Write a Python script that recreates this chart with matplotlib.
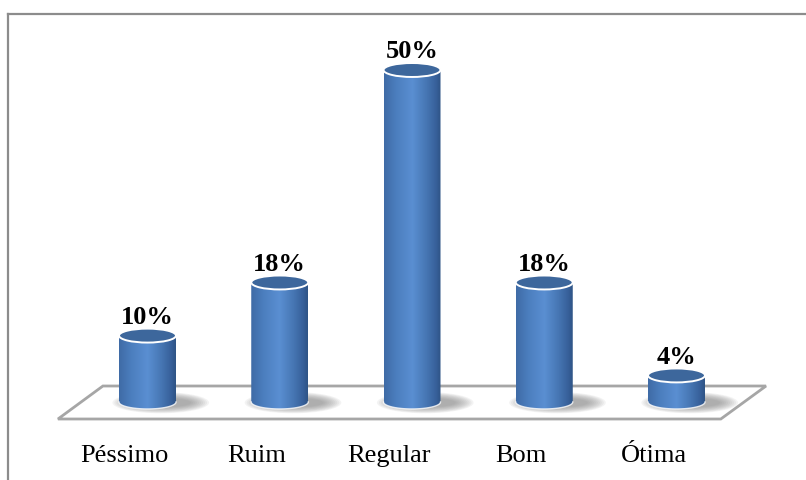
import numpy as np
import matplotlib
matplotlib.use("Agg")
import matplotlib.pyplot as plt
from matplotlib.path import Path
from matplotlib.patches import PathPatch, Ellipse, Polygon
from matplotlib.colors import LinearSegmentedColormap
from matplotlib.lines import Line2D

# dados ---------------------------------------------------------------
categorias = ["Péssimo", "Ruim", "Regular", "Bom", "Ótima"]
valores = [10, 18, 50, 18, 4]
rotulos = ["10%", "18%", "50%", "18%", "4%"]

# figura --------------------------------------------------------------
W, H = 806, 481
fig = plt.figure(figsize=(W / 100, H / 100), dpi=100)
ax = fig.add_axes([0, 0, 1, 1])
ax.axis("off")

px_x = 132.25          # pixels por categoria
px_y = 6.64            # pixels por ponto percentual
x0_px, y0_px = 147.5, 403
ax.set_xlim(-x0_px / px_x, (W - x0_px) / px_x)
ax.set_ylim(-(H - y0_px) / px_y, y0_px / px_y)

a = 0.2155             # meia largura do cilindro
b = 1.05               # meia altura da elipse

serif = ["Liberation Serif", "DejaVu Serif"]

# piso
piso = Polygon([(-0.677, -2.56), (4.335, -2.56), (4.677, 2.41), (-0.337, 2.41)],
               closed=True, facecolor="white", edgecolor="#a6a6a6", lw=2, zorder=1)
ax.add_patch(piso)

cmap = LinearSegmentedColormap.from_list("cil", [
    (0.0, "#3f6ba6"), (0.2, "#4b7dbd"), (0.5, "#5a8fd2"),
    (0.75, "#4676b3"), (0.92, "#37609a"), (1.0, "#2f5486")])
grad = np.linspace(0, 1, 200).reshape(1, -1)

t_bot = np.linspace(0, -np.pi, 60)

for i, v in enumerate(valores):
    # sombra
    for k in range(10):
        s = 1 - k / 10
        ax.add_patch(Ellipse((i + 0.1, -0.1), 2 * a + 0.3 * s, 1.2 + 2.0 * s,
                             facecolor="#808080", edgecolor="none",
                             alpha=0.09, zorder=2))
    # corpo
    verts = [(i + a * np.cos(t), b * np.sin(t)) for t in t_bot]
    verts += [(i - a, v), (i + a, v), (i + a, 0)]
    codes = [Path.MOVETO] + [Path.LINETO] * (len(verts) - 2) + [Path.CLOSEPOLY]
    corpo = PathPatch(Path(verts, codes), facecolor="none", edgecolor="none", zorder=3)
    ax.add_patch(corpo)
    im = ax.imshow(grad, cmap=cmap, aspect="auto", interpolation="bicubic",
                   extent=(i - a, i + a, -b, v), zorder=3)
    im.set_clip_path(corpo)
    ax.plot(i + a * np.cos(t_bot), b * np.sin(t_bot), color="white",
            lw=1.0, alpha=0.8, zorder=4)
    # tampa
    ax.add_patch(Ellipse((i, v), 2 * a, 2 * b, facecolor="#3d679c",
                         edgecolor="white", lw=1.4, zorder=5))
    # rotulo de valor
    ax.text(i, v + b + 0.85, rotulos[i], ha="center", va="baseline",
            fontsize=19, fontweight="bold", family=serif, zorder=6)
    # categoria
    ax.text(i - 0.174, -8.89, categorias[i], ha="center", va="baseline",
            fontsize=19, family=serif, zorder=6)

# moldura (topo e esquerda)
fig.add_artist(Line2D([8 / W, 806 / W], [1 - 15 / H, 1 - 15 / H],
                      color="#8c8c8c", lw=1.6))
fig.add_artist(Line2D([8 / W, 8 / W], [0, 1 - 15 / H],
                      color="#8c8c8c", lw=1.6))

fig.savefig("out.png", dpi=100)
